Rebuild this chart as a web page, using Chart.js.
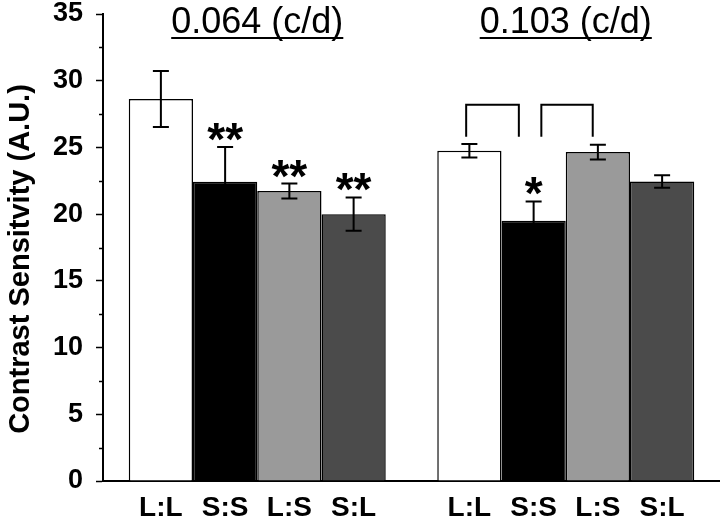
<!DOCTYPE html>
<html>
<head>
<meta charset="utf-8">
<script src="https://cdn.jsdelivr.net/npm/chart.js@4.4.1/dist/chart.umd.min.js"></script>
<style>
html,body{margin:0;padding:0;background:#fff;}
#wrap{width:720px;height:520px;}
</style>
</head>
<body>
<div id="wrap"><canvas id="c" width="720" height="520"></canvas></div>
<script>
// ---- data ----
const groups = ['0.064 (c/d)', '0.103 (c/d)'];
const conditions = ['L:L', 'S:S', 'L:S', 'S:L'];
const valuesLL = [28.63, 24.75];
const valuesSS = [22.42, 19.5];
const valuesLS = [21.73, 24.65];
const valuesSL = [20.0, 22.45];
const errorsLL = [2.1, 0.5];
const errorsSS = [2.62, 1.45];
const errorsLS = [0.56, 0.55];
const errorsSL = [1.25, 0.47];
const starsLL = ['', ''];
const starsSS = ['**', '*'];
const starsLS = ['**', ''];
const starsSL = ['**', ''];
const yTicks = [0, 5, 10, 15, 20, 25, 30, 35];
const bracketGroup = 1;
const bracketPairs = [[0, 1], [1, 2]];
const bracketTop = 28.2;
const bracketLegBottom = 25.8;
const yTitle = 'Contrast Sensitvity (A.U.)';

const FONT = '"Liberation Sans", Arial, sans-serif';
const colors = ['#ffffff', '#000000', '#9a9a9a', '#4b4b4b'];
const allValues = [valuesLL, valuesSS, valuesLS, valuesSL];
const allErrors = [errorsLL, errorsSS, errorsLS, errorsSL];
const allStars = [starsLL, starsSS, starsLS, starsSL];

const datasets = conditions.map((c, i) => ({
  label: c,
  data: allValues[i],
  backgroundColor: colors[i],
  borderColor: '#000',
  borderWidth: 1.5,
  borderSkipped: 'bottom',
  categoryPercentage: 0.833,
  barPercentage: 1.0
}));

const annot = {
  id: 'annot',
  afterDatasetsDraw(chart) {
    const ctx = chart.ctx;
    const y = chart.scales.y;
    const x = chart.scales.x;
    ctx.save();
    // minor ticks
    ctx.strokeStyle = '#000';
    ctx.lineWidth = 1.5;
    for (let i = 0; i < yTicks.length - 1; i++) {
      const v = (yTicks[i] + yTicks[i + 1]) / 2;
      const py = Math.round(y.getPixelForValue(v)) + 0.5;
      ctx.beginPath();
      ctx.moveTo(chart.chartArea.left - 4, py);
      ctx.lineTo(chart.chartArea.left, py);
      ctx.stroke();
    }
    // error bars
    ctx.lineWidth = 2;
    conditions.forEach((c, di) => {
      const meta = chart.getDatasetMeta(di);
      meta.data.forEach((bar, gi) => {
        const v = allValues[di][gi], e = allErrors[di][gi];
        const top = y.getPixelForValue(v + e), bot = y.getPixelForValue(v - e);
        const cx = bar.x;
        ctx.beginPath();
        ctx.moveTo(cx, top); ctx.lineTo(cx, bot);
        ctx.moveTo(cx - 8, top); ctx.lineTo(cx + 8, top);
        ctx.moveTo(cx - 8, bot); ctx.lineTo(cx + 8, bot);
        ctx.stroke();
        const s = allStars[di][gi];
        if (s) {
          ctx.fillStyle = '#000';
          ctx.font = 'bold 46px ' + FONT;
          ctx.textAlign = 'center';
          ctx.textBaseline = 'alphabetic';
          ctx.fillText(s, cx, top + 8);
        }
      });
    });
    // brackets
    bracketPairs.forEach((p, k) => {
      const b0 = chart.getDatasetMeta(p[0]).data[bracketGroup];
      const b1 = chart.getDatasetMeta(p[1]).data[bracketGroup];
      const w = b0.width;
      const x0 = k === 0 ? b0.x - 0.05 * w : b0.x + 0.12 * w;
      const x1 = k === 0 ? b1.x - 0.23 * w : b1.x - 0.08 * w;
      const yt = y.getPixelForValue(bracketTop), yb = y.getPixelForValue(bracketLegBottom);
      ctx.beginPath();
      ctx.moveTo(x0, yb); ctx.lineTo(x0, yt); ctx.lineTo(x1, yt); ctx.lineTo(x1, yb);
      ctx.stroke();
    });
    // bar labels
    ctx.fillStyle = '#000';
    ctx.font = 'bold 28px ' + FONT;
    ctx.textAlign = 'center';
    ctx.textBaseline = 'alphabetic';
    conditions.forEach((c, di) => {
      chart.getDatasetMeta(di).data.forEach(bar => {
        ctx.fillText(c, bar.x, 516);
      });
    });
    // group titles
    ctx.font = '36px ' + FONT;
    groups.forEach((g, gi) => {
      const cx = x.getPixelForValue(gi);
      ctx.fillText(g, cx, 33);
      const w = ctx.measureText(g).width;
      ctx.fillRect(cx - w / 2, 37, w, 2);
    });
    // y title
    ctx.save();
    ctx.translate(21, 259);
    ctx.rotate(-Math.PI / 2);
    ctx.font = 'bold 29px ' + FONT;
    ctx.textBaseline = 'middle';
    ctx.fillText(yTitle, 0, 0);
    ctx.restore();
    ctx.restore();
  }
};

new Chart(document.getElementById('c'), {
  type: 'bar',
  data: { labels: groups, datasets },
  options: {
    responsive: false,
    animation: false,
    events: [],
    layout: { padding: { top: 0, right: 0, bottom: 0, left: 0 } },
    plugins: { legend: { display: false }, tooltip: { enabled: false }, title: { display: false } },
    scales: {
      x: {
        grid: { display: false },
        border: { display: true, color: '#000', width: 2 },
        ticks: { display: false },
        afterFit(s) { s.height = 39; }
      },
      y: {
        min: 0, max: 35,
        afterBuildTicks(s) { s.ticks = yTicks.map(v => ({ value: v })); },
        ticks: {
          color: '#000',
          font: { family: FONT, size: 27, weight: 'bold', lineHeight: 1.04 },
          padding: 13
        },
        grid: { drawOnChartArea: false, drawTicks: true, tickLength: 7, tickColor: '#000', tickWidth: 1.5 },
        border: { display: true, color: '#000', width: 2 },
        afterFit(s) { s.width = 103; s.paddingTop = 14; s.paddingBottom = 14; }
      }
    }
  },
  plugins: [annot]
});
</script>
</body>
</html>
